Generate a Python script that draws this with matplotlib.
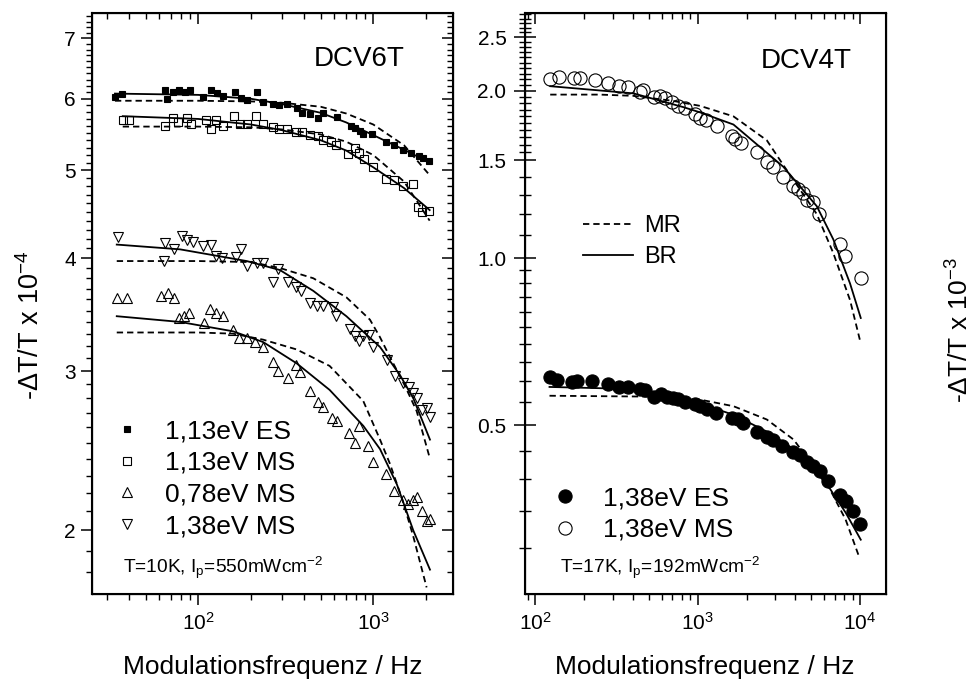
import numpy as np
import matplotlib
matplotlib.use("Agg")
import matplotlib.pyplot as plt
from matplotlib.ticker import FixedLocator, NullFormatter, FormatStrFormatter, LogLocator
from matplotlib.lines import Line2D

plt.rcParams['font.family'] = 'Liberation Sans'
plt.rcParams['mathtext.fontset'] = 'custom'
plt.rcParams['mathtext.rm'] = 'Liberation Sans'
plt.rcParams['mathtext.it'] = 'Liberation Sans:italic'
plt.rcParams['mathtext.default'] = 'regular'

# ---- DCV6T (left) ----
f_es113 = [33.4, 36.5, 64.5, 66.5, 71.9, 77.9, 84.0, 89.7, 106.9, 117.8, 127.4, 137.8, 162, 175, 189, 216, 235, 266, 289, 320,
           365, 390, 435, 481, 518, 618, 743, 786, 839, 877, 979, 1177, 1313, 1483, 1636, 1832, 1931, 2089]
v_es113 = [6.03, 6.08, 6.13, 5.99, 6.10, 6.13, 6.11, 6.14, 6.02, 6.13, 6.09, 6.05, 6.10, 6.01, 5.98, 6.10, 5.95, 5.92, 5.90, 5.92,
           5.86, 5.78, 5.77, 5.71, 5.79, 5.73, 5.60, 5.57, 5.53, 5.48, 5.48, 5.37, 5.34, 5.27, 5.23, 5.19, 5.16, 5.12]
f_ms113 = [37.0, 40.3, 64.5, 71.9, 76.9, 85.9, 90.9, 110.7, 118.2, 126.2, 137.8, 160, 173, 189, 214, 235, 266, 289, 320, 362,
           390, 435, 485, 514, 571, 612, 720, 786, 832, 885, 993, 1177, 1313, 1472, 1679, 1807, 1891, 2089]
v_ms113 = [5.68, 5.68, 5.60, 5.71, 5.65, 5.72, 5.62, 5.69, 5.56, 5.69, 5.60, 5.74, 5.62, 5.63, 5.74, 5.62, 5.59, 5.55, 5.55, 5.51,
           5.51, 5.47, 5.46, 5.40, 5.38, 5.33, 5.22, 5.29, 5.23, 5.15, 5.05, 4.89, 4.88, 4.80, 4.83, 4.55, 4.50, 4.51]
f_ms078 = [34.2, 39.0, 61.2, 66.8, 72.9, 77.9, 82.8, 88.5, 107.8, 116.7, 126.2, 137.8, 157, 171.5, 189, 211, 233, 266, 286, 324,
           362, 381, 435, 485, 518, 583, 618, 729, 786, 832, 936, 993, 1183, 1313, 1483, 1585, 1693, 1783, 1891, 2018, 2109]
v_ms078 = [3.61, 3.61, 3.63, 3.66, 3.61, 3.43, 3.45, 3.48, 3.39, 3.51, 3.48, 3.45, 3.33, 3.26, 3.26, 3.23, 3.19, 3.07, 3.00, 2.95,
           3.05, 2.99, 2.85, 2.77, 2.74, 2.66, 2.64, 2.56, 2.50, 2.61, 2.48, 2.38, 2.31, 2.21, 2.16, 2.14, 2.16, 2.18, 2.10, 2.05, 2.06]
f_ms138 = [34.9, 63.7, 64.5, 72.6, 80.4, 86.5, 92.9, 106.9, 117.8, 126.2, 136, 164, 175, 190.5, 216, 233, 268, 286, 327, 362,
           385, 435, 479, 518, 586, 612, 736, 786, 832, 877, 949, 993, 1193, 1330, 1483, 1607, 1679, 1783, 1891, 2018, 2109]
v_ms138 = [4.22, 3.97, 4.16, 4.09, 4.23, 4.19, 4.17, 4.12, 4.14, 4.02, 4.00, 4.01, 4.09, 3.92, 3.95, 3.95, 3.76, 3.89, 3.76, 3.72,
           3.68, 3.57, 3.54, 3.54, 3.53, 3.45, 3.34, 3.28, 3.24, 3.28, 3.29, 3.19, 3.09, 2.96, 2.91, 2.88, 2.84, 2.80, 2.72, 2.73, 2.67]

# fits: BR (solid), MR (dashed)
fit_f_es113 = [33.4, 100, 200, 300, 500, 700, 1000, 1500, 2100]
br_es113 = [6.08, 6.06, 6.00, 5.92, 5.79, 5.65, 5.47, 5.27, 5.10]
mr_es113 = [5.97, 5.97, 5.96, 5.94, 5.88, 5.78, 5.62, 5.33, 4.94]
fit_f_ms113 = [37, 100, 200, 300, 500, 700, 1000, 1500, 2100]
br_ms113 = [5.74, 5.70, 5.62, 5.54, 5.40, 5.26, 5.04, 4.78, 4.52]
mr_ms113 = [5.59, 5.59, 5.58, 5.55, 5.48, 5.38, 5.20, 4.86, 4.40]
br_f_ms138 = [34.2, 78.7, 189, 293, 454, 702, 1093, 1421, 1693, 2109]
br_ms138 = [4.14, 4.09, 3.97, 3.88, 3.68, 3.45, 3.19, 2.97, 2.80, 2.52]
mr_f_ms138 = [34.2, 100, 200, 293, 454, 702, 957, 1093, 1245, 1517, 1770, 2109]
mr_ms138 = [3.97, 3.97, 3.96, 3.90, 3.80, 3.62, 3.42, 3.27, 3.11, 2.89, 2.71, 2.40]
br_f_ms078 = [34.2, 78.7, 158, 235, 365, 563, 877, 1093, 1363, 1693, 2109]
br_ms078 = [3.45, 3.40, 3.32, 3.23, 3.06, 2.86, 2.61, 2.46, 2.25, 2.00, 1.81]
mr_f_ms078 = [34.2, 100, 158, 235, 365, 563, 877, 1093, 1245, 1470, 1693, 2018]
mr_ms078 = [3.31, 3.31, 3.30, 3.25, 3.17, 3.04, 2.78, 2.52, 2.37, 2.16, 1.97, 1.73]

# ---- DCV4T (right) ----
f_es138 = [122.5, 136, 168, 182, 223, 279, 326, 375, 443, 475, 535, 594, 646, 703, 762, 837, 966, 1036, 1139, 1300,
           1623, 1783, 1897, 2314, 2666, 2925, 3300, 3855, 4273, 4697, 5162, 5675, 6384, 7535, 8200, 9097, 10000]
v_es138 = [0.611, 0.604, 0.597, 0.600, 0.601, 0.592, 0.586, 0.586, 0.581, 0.578, 0.563, 0.570, 0.563, 0.560, 0.557, 0.550,
           0.545, 0.541, 0.535, 0.526, 0.515, 0.512, 0.505, 0.486, 0.477, 0.471, 0.458, 0.447, 0.441, 0.430, 0.423, 0.413,
           0.396, 0.375, 0.365, 0.350, 0.332]
f_ms138r = [123.7, 141, 174, 189, 232, 282, 326, 372, 443, 464, 540, 588, 631, 694, 762, 837, 966, 1036, 1128, 1312,
            1623, 1702, 1845, 2314, 2666, 2903, 3345, 3855, 4173, 4478, 4697, 5162, 5620, 7535, 8091, 10100]
v_ms138r = [2.10, 2.12, 2.11, 2.11, 2.09, 2.07, 2.04, 2.03, 1.99, 2.01, 1.95, 1.96, 1.94, 1.91, 1.88, 1.86, 1.82, 1.79,
            1.77, 1.73, 1.66, 1.64, 1.61, 1.55, 1.49, 1.46, 1.40, 1.35, 1.33, 1.31, 1.27, 1.26, 1.20, 1.06, 1.01, 0.92]

br_f_ms138r = [123.7, 403, 818, 1036, 1662, 3373, 5415, 6850, 8676, 10100]
br_ms138r = [2.04, 1.98, 1.87, 1.83, 1.74, 1.46, 1.24, 1.08, 0.90, 0.78]
mr_f_ms138r = [123.7, 250, 400, 700, 1036, 1662, 2666, 3373, 5415, 6850, 8676, 10000]
mr_ms138r = [1.97, 1.97, 1.96, 1.92, 1.88, 1.80, 1.63, 1.47, 1.20, 1.02, 0.84, 0.71]
br_f_es138 = [122.5, 403, 646, 1036, 1662, 2666, 4273, 6384, 8150, 10100]
br_es138 = [0.586, 0.581, 0.567, 0.547, 0.522, 0.487, 0.445, 0.388, 0.348, 0.311]
mr_f_es138 = [122.5, 511, 1036, 1662, 2666, 3900, 6384, 8150, 9770]
mr_es138 = [0.565, 0.563, 0.556, 0.541, 0.512, 0.471, 0.388, 0.338, 0.292]

left_yticks = [2, 3, 4, 5, 6, 7]
right_yticks = [0.5, 1.0, 1.5, 2.0, 2.5]

fig = plt.figure(figsize=(9.75, 6.86), dpi=100)
ax1 = fig.add_axes([0.0947, 0.1337, 0.3696, 0.8478])
ax2 = fig.add_axes([0.538, 0.1337, 0.3703, 0.8478])

dash = (0, (3.5, 2.2))
lw = 1.3
mk = dict(color='k', linestyle='none', mew=0.8)

# left panel
ax1.set_xscale('log'); ax1.set_yscale('log')
ax1.plot(fit_f_es113, br_es113, 'k-', lw=lw)
ax1.plot(fit_f_es113, mr_es113, 'k', ls=dash, lw=lw)
ax1.plot(fit_f_ms113, br_ms113, 'k-', lw=lw)
ax1.plot(fit_f_ms113, mr_ms113, 'k', ls=dash, lw=lw)
ax1.plot(br_f_ms138, br_ms138, 'k-', lw=lw)
ax1.plot(mr_f_ms138, mr_ms138, 'k', ls=dash, lw=lw)
ax1.plot(br_f_ms078, br_ms078, 'k-', lw=lw)
ax1.plot(mr_f_ms078, mr_ms078, 'k', ls=dash, lw=lw)
h1, = ax1.plot(f_es113, v_es113, marker='s', ms=5, mfc='k', **mk)
h2, = ax1.plot(f_ms113, v_ms113, marker='s', ms=5.5, mfc='none', **mk)
h3, = ax1.plot(f_ms078, v_ms078, marker='^', ms=6.5, mfc='none', **mk)
h4, = ax1.plot(f_ms138, v_ms138, marker='v', ms=6.5, mfc='none', **mk)
ax1.set_xlim(24.8, 2844)
ax1.set_ylim(1.70, 7.47)
ax1.yaxis.set_major_locator(FixedLocator(left_yticks))
ax1.yaxis.set_major_formatter(FormatStrFormatter('%d'))
ax1.yaxis.set_minor_locator(FixedLocator([v for v in np.arange(1.8, 7.45, 0.1) if abs(v - round(v)) > 0.01]))
ax1.yaxis.set_minor_formatter(NullFormatter())
ax1.legend([h1, h2, h3, h4], ['1,13eV ES', '1,13eV MS', '0,78eV MS', '1,38eV MS'],
           loc='upper left', bbox_to_anchor=(0.06, 0.301), frameon=False, fontsize=19,
           handlelength=1.0, handletextpad=0.95, labelspacing=0.29, borderpad=0, borderaxespad=0)
ax1.text(0.868, 0.921, 'DCV6T', transform=ax1.transAxes, ha='right', va='center', fontsize=20)
ax1.text(0.084, 0.045, r'T=10K, I$_\mathregular{p}$=550mWcm$^\mathregular{-2}$', transform=ax1.transAxes,
         ha='left', va='center', fontsize=13.8)
ax1.set_ylabel(r'-ΔT/T x 10$^\mathregular{-4}$', fontsize=19.5)
ax1.yaxis.set_label_coords(-0.131, 0.463)
ax1.set_xlabel('Modulationsfrequenz / Hz', fontsize=19)
ax1.xaxis.set_label_coords(0.5, -0.105)

# right panel
ax2.set_xscale('log'); ax2.set_yscale('log')
ax2.plot(br_f_ms138r, br_ms138r, 'k-', lw=lw)
ax2.plot(mr_f_ms138r, mr_ms138r, 'k', ls=dash, lw=lw)
ax2.plot(br_f_es138, br_es138, 'k-', lw=lw)
ax2.plot(mr_f_es138, mr_es138, 'k', ls=dash, lw=lw)
g1, = ax2.plot(f_es138, v_es138, marker='o', ms=9.5, mfc='k', **mk)
g2, = ax2.plot(f_ms138r, v_ms138r, marker='o', ms=9.5, mfc='none', **mk)
ax2.set_xlim(86, 14360)
ax2.set_ylim(0.248, 2.767)
ax2.yaxis.tick_right()
ax2.yaxis.set_label_position('right')
ax2.yaxis.set_major_locator(FixedLocator(right_yticks))
ax2.yaxis.set_major_formatter(FormatStrFormatter('%.1f'))
rminor = list(np.arange(0.30, 0.99, 0.05)) + list(np.arange(1.1, 1.45, 0.1)) + list(np.arange(1.55, 2.76, 0.05))
rminor = [v for v in rminor if min(abs(v - t) for t in right_yticks) > 0.01]
ax2.yaxis.set_minor_locator(FixedLocator(rminor))
ax2.yaxis.set_minor_formatter(NullFormatter())
leg_a = ax2.legend([g1, g2], ['1,38eV ES', '1,38eV MS'], loc='upper left', bbox_to_anchor=(0.0756, 0.186),
                   frameon=False, fontsize=19, handlelength=1.0, handletextpad=0.95, labelspacing=0.29,
                   borderpad=0, borderaxespad=0)
ax2.add_artist(leg_a)
ax2.legend([Line2D([], [], color='k', ls=dash, lw=lw), Line2D([], [], color='k', lw=lw)], ['MR', 'BR'],
           loc='upper left', bbox_to_anchor=(0.162, 0.652), frameon=False, fontsize=17,
           handlelength=2.1, handletextpad=0.5, labelspacing=0.38, borderpad=0, borderaxespad=0)
ax2.text(0.906, 0.917, 'DCV4T', transform=ax2.transAxes, ha='right', va='center', fontsize=20)
ax2.text(0.098, 0.045, r'T=17K, I$_\mathregular{p}$=192mWcm$^\mathregular{-2}$', transform=ax2.transAxes,
         ha='left', va='center', fontsize=13.8)
ax2.set_ylabel(r'-ΔT/T x 10$^\mathregular{-3}$', fontsize=19)
ax2.yaxis.set_label_coords(1.168, 0.454)
ax2.set_xlabel('Modulationsfrequenz / Hz', fontsize=19)
ax2.xaxis.set_label_coords(0.5, -0.105)

# ticks: labelled sides outward, mirrored sides inward
for ax, yside in [(ax1, 'left'), (ax2, 'right')]:
    for s in ax.spines.values():
        s.set_linewidth(1.5)
    ax.tick_params(which='major', direction='out', length=8, width=1.1, labelsize=15, pad=5)
    ax.tick_params(which='minor', direction='out', length=4, width=1.0)
    ax.tick_params(axis='x', top=False, bottom=True)
    ax.xaxis.set_minor_locator(LogLocator(base=10, subs=np.arange(2, 10)))
    ax.xaxis.set_minor_formatter(NullFormatter())

    tx = ax.twiny()
    tx.set_xscale('log'); tx.set_xlim(ax.get_xlim())
    tx.xaxis.set_minor_locator(LogLocator(base=10, subs=np.arange(2, 10)))
    tx.tick_params(axis='x', which='major', direction='in', length=8, width=1.1, labeltop=False, top=True)
    tx.tick_params(axis='x', which='minor', direction='in', length=4, width=1.0, top=True)
    tx.xaxis.set_minor_formatter(NullFormatter())

    ty = ax.twinx()
    ty.set_yscale('log'); ty.set_ylim(ax.get_ylim())
    ty.yaxis.set_major_locator(FixedLocator(ax.yaxis.get_majorticklocs()))
    ty.yaxis.set_minor_locator(FixedLocator(ax.yaxis.get_minorticklocs()))
    ty.yaxis.set_major_formatter(NullFormatter())
    ty.yaxis.set_minor_formatter(NullFormatter())
    if yside == 'left':
        ty.yaxis.tick_right()
    else:
        ty.yaxis.tick_left()
    ty.tick_params(axis='y', which='major', direction='in', length=8, width=1.1)
    ty.tick_params(axis='y', which='minor', direction='in', length=4, width=1.0)

ax1.tick_params(axis='y', labelsize=15, pad=4)
ax2.tick_params(axis='y', labelsize=15, pad=5)

fig.savefig('out.png', dpi=100)
